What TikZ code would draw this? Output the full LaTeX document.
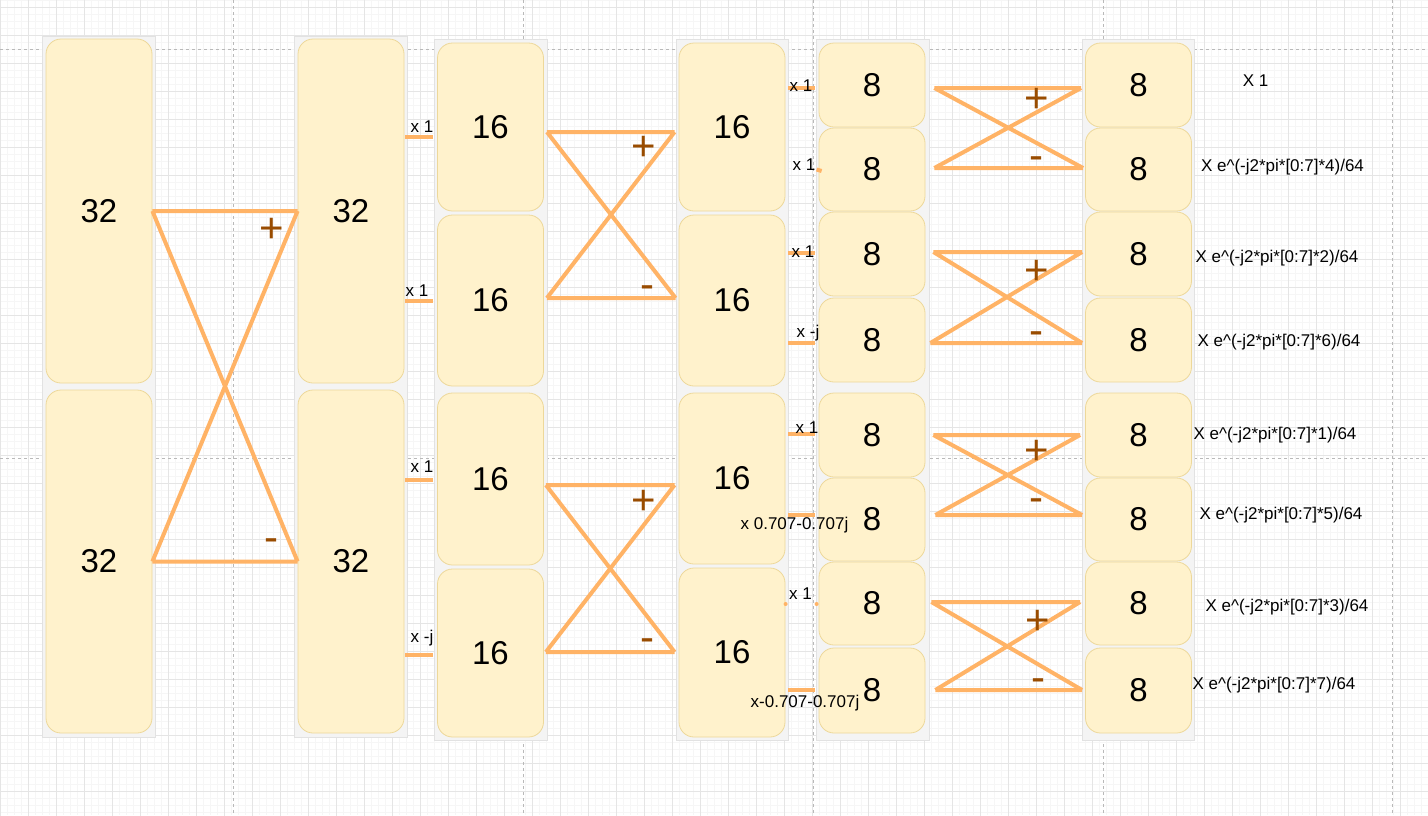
\documentclass[tikz,border=0pt]{standalone}
\usepackage{fontspec}
\setmainfont{Liberation Sans}

\definecolor{orangefil}{HTML}{FFB366}
\definecolor{brun}{HTML}{994C00}
\definecolor{jaune}{HTML}{FFF2CC}
\definecolor{bordjaune}{HTML}{EDD89A}
\definecolor{fond}{HTML}{F4F4F4}
\definecolor{bordfond}{HTML}{E2E2E2}

\begin{document}
\begin{tikzpicture}
                    [x=1pt,y=-1pt,
                    grillefine/.style={draw=gray!7, line width=0.5pt, step=7pt},
                    grille/.style={draw=gray!20, line width=1pt, step=28pt},
                    page/.style={draw=gray!55, line width=0.8pt, dash pattern=on 3pt off 3pt},
                    cadre/.style={draw=bordfond, fill=fond, line width=1pt},
                    bloc/.style={draw=bordjaune, fill=jaune, rounded corners=15pt, line width=0.8pt, minimum width=106pt, inner sep=0pt, font=\fontsize{33}{36}\selectfont},
                    petit/.style={bloc, minimum height=84pt},
                    fil/.style={draw=orangefil, line width=4pt},
                    signe/.style={text=brun, inner sep=0pt, font=\fontsize{42}{44}\selectfont},
                    lbl/.style={inner sep=0pt, font=\fontsize{17}{19}\selectfont}]

                    % Grille
                    \useasboundingbox (0,0) rectangle (1428,815);
                    \clip (0,0) rectangle (1428,815);
                    \fill [white] (0,0) rectangle (1428,815);
                    \draw [grillefine] (0pt,0pt) grid (1428pt,-815pt);
                    \draw [grille, yshift=-7pt] (0pt,14pt) grid (1428pt,-815pt);
                    \draw [page] (233,0) -- (233,815) (523,0) -- (523,815) (813,0) -- (813,815) (1103,0) -- (1103,815) (1392,0) -- (1392,815) (0,49) -- (1428,49) (0,458) -- (1428,458);

                    % Cadres
                    \draw [cadre] (42,36) rectangle (155,737); \draw [cadre] (294,36) rectangle (407,737);
                    \draw [cadre] (434,39) rectangle (547,740); \draw [cadre] (676,39) rectangle (788,740);
                    \draw [cadre] (816,39) rectangle (929,740); \draw [cadre] (1082,39) rectangle (1194,740);

                    % Blocs 32
                    \node [bloc, minimum height=344pt] (A1) at (99,211) {32}; \node [bloc, minimum height=343pt] (A2) at (99,561.5) {32};
                    \node [bloc, minimum height=344pt] (B1) at (351,211) {32}; \node [bloc, minimum height=343pt] (B2) at (351,561.5) {32};

                    % Blocs 16
                    \node [bloc, minimum height=168pt] (C1) at (490.5,127) {16}; \node [bloc, minimum height=171pt] (C2) at (490.5,300.5) {16};
                    \node [bloc, minimum height=172pt] (C3) at (490.5,479) {16}; \node [bloc, minimum height=168pt] (C4) at (490.5,653) {16};
                    \node [bloc, minimum height=168pt] (D1) at (732,127) {16}; \node [bloc, minimum height=171pt] (D2) at (732,300.5) {16};
                    \node [bloc, minimum height=171pt] (D3) at (732,478.5) {16}; \node [bloc, minimum height=169pt] (D4) at (732,652.5) {16};

                    % Blocs 8
                    \node [petit] (E1) at (872,85) {8}; \node [petit, minimum height=83pt] (E2) at (872,169.5) {8};
                    \node [petit] (E3) at (872,254) {8}; \node [petit] (E4) at (872,340) {8};
                    \node [petit] (E5) at (872,435) {8}; \node [petit, minimum height=83pt] (E6) at (872,519.5) {8};
                    \node [petit, minimum height=83pt] (E7) at (872,603.5) {8}; \node [petit, minimum height=85pt] (E8) at (872,690.5) {8};
                    \node [petit] (F1) at (1138.5,85) {8}; \node [petit, minimum height=83pt] (F2) at (1138.5,169.5) {8};
                    \node [petit] (F3) at (1138.5,254) {8}; \node [petit] (F4) at (1138.5,340) {8};
                    \node [petit] (F5) at (1138.5,435) {8}; \node [petit, minimum height=83pt] (F6) at (1138.5,519.5) {8};
                    \node [petit, minimum height=83pt] (F7) at (1138.5,603.5) {8}; \node [petit, minimum height=85pt] (F8) at (1138.5,690.5) {8};

                    % Papillons
                    \draw [fil] (A1.east) -- (B1.west) (A2.east) -- (B2.west) (A1.east) -- (B2.west) (A2.east) -- (B1.west);
                    \draw [fil] ([shift={(3,5)}]C1.east) coordinate (c1) -- ([shift={(-4,5)}]D1.west) coordinate (d1) ([shift={(3,-2.5)}]C2.east) coordinate (c2) -- ([shift={(-3,-2.5)}]D2.west) coordinate (d2) (c1) -- (d2) (c2) -- (d1);
                    \draw [fil] ([shift={(2,6)}]C3.east) coordinate (c3) -- ([shift={(-4,6.5)}]D3.west) coordinate (d3) ([shift={(2,-1)}]C4.east) coordinate (c4) -- ([shift={(-4,-0.5)}]D4.west) coordinate (d4) (c3) -- (d4) (c4) -- (d3);
                    \draw [fil] ([shift={(9,3)}]E1.east) coordinate (e1) -- ([shift={(-4,3)}]F1.west) coordinate (f1) ([shift={(9,-1.5)}]E2.east) coordinate (e2) -- ([shift={(-2,-1.5)}]F2.west) coordinate (f2) (e1) -- (f2) (e2) -- (f1);
                    \draw [fil] ([shift={(8,-2)}]E3.east) coordinate (e3) -- ([shift={(-3,-2)}]F3.west) coordinate (f3) ([shift={(5,3)}]E4.east) coordinate (e4) -- ([shift={(-3,3)}]F4.west) coordinate (f4) (e3) -- (f4) (e4) -- (f3);
                    \draw [fil] ([shift={(8,0)}]E5.east) coordinate (e5) -- ([shift={(-5,0)}]F5.west) coordinate (f5) ([shift={(10,-4.5)}]E6.east) coordinate (e6) -- ([shift={(-3,-4.5)}]F6.west) coordinate (f6) (e5) -- (f6) (e6) -- (f5);
                    \draw [fil] ([shift={(6,-1.5)}]E7.east) coordinate (e7) -- ([shift={(-5,-1.5)}]F7.west) coordinate (f7) ([shift={(10,-0.5)}]E8.east) coordinate (e8) -- ([shift={(-3,-0.5)}]F8.west) coordinate (f8) (e7) -- (f8) (e8) -- (f7);

                    % Signes
                    \node [signe] (plus1) at (271.5,230) {+}; \node [signe] (moins1) at (271,545) {-};
                    \node [signe] (plus2) at (644,148) {+}; \node [signe] (moins2) at (647.5,292) {-};
                    \node [signe] (plus3) at (644,502) {+}; \node [signe] (moins3) at (647.5,645) {-};
                    \node [signe] (plus4) at (1037,100) {+}; \node [signe] (moins4) at (1036,163) {-};
                    \node [signe] (plus5) at (1037,272) {+}; \node [signe] (moins5) at (1036,338) {-};
                    \node [signe] (plus6) at (1037,452) {+}; \node [signe] (moins6) at (1036,505) {-};
                    \node [signe] (plus7) at (1038,622) {+}; \node [signe] (moins7) at (1038,685) {-};

                    % Facteurs 32 -> 16
                    \draw [fil] ([shift={(-4,10)}]C1.west) -- ++(-28,0); \node [lbl] (w1) at (422,127) {x 1};
                    \draw [fil] ([shift={(-4,0.5)}]C2.west) -- ++(-28,0); \node [lbl] (w2) at (417,291) {x 1};
                    \draw [fil] ([shift={(-4,1)}]C3.west) -- ++(-28,0); \node [lbl] (w3) at (422,467) {x 1};
                    \draw [fil] ([shift={(-4,2)}]C4.west) -- ++(-28,0); \node [lbl] (w4) at (422,638) {x -j};

                    % Facteurs 16 -> 8
                    \draw [fil] ([shift={(-4,3)}]E1.west) -- ++(-27,0); \node [lbl] (v1) at (801,86) {x 1};
                    \draw [fil] ([shift={(-2,0)}]E2.west) -- ++(5,1.5); \node [lbl] (v2) at (804,165) {x 1};
                    \draw [fil] ([shift={(-4,-1)}]E3.west) -- ++(-27,0); \node [lbl] (v3) at (803,252) {x 1};
                    \draw [fil] ([shift={(-4,3)}]E4.west) -- ++(-27,0); \node [lbl] (v4) at (808,333) {x -j};
                    \draw [fil] ([shift={(-4,-1)}]E5.west) -- ++(-27,0); \node [lbl] (v5) at (807,428) {x 1};
                    \draw [fil] ([shift={(-4,-4.5)}]E6.west) -- ++(-27,0); \node [lbl] (v6) at (794.5,525) {x 0.707-0.707j};
                    \fill [orangefil] ([shift={(-2,0.5)}]E7.west) circle (2) ([shift={(-33,0.5)}]E7.west) circle (2); \node [lbl] (v7) at (800.5,594) {x 1};
                    \draw [fil] ([shift={(-4,-0.5)}]E8.west) -- ++(-27,0); \node [lbl] (v8) at (805,703) {x-0.707-0.707j};

                    % Facteurs de sortie
                    \node [lbl] (s1) at (1255.5,81) {X 1};
                    \node [lbl] (s2) at (1282.5,167) {X e\textasciicircum(-j2*pi*[0:7]*4)/64};
                    \node [lbl] (s3) at (1277,258) {X e\textasciicircum(-j2*pi*[0:7]*2)/64};
                    \node [lbl] (s4) at (1279,342) {X e\textasciicircum(-j2*pi*[0:7]*6)/64};
                    \node [lbl] (s5) at (1275,435) {X e\textasciicircum(-j2*pi*[0:7]*1)/64};
                    \node [lbl] (s6) at (1281,515) {X e\textasciicircum(-j2*pi*[0:7]*5)/64};
                    \node [lbl] (s7) at (1287,607) {X e\textasciicircum(-j2*pi*[0:7]*3)/64};
                    \node [lbl] (s8) at (1274,685) {X e\textasciicircum(-j2*pi*[0:7]*7)/64};
                \end{tikzpicture}
\end{document}
